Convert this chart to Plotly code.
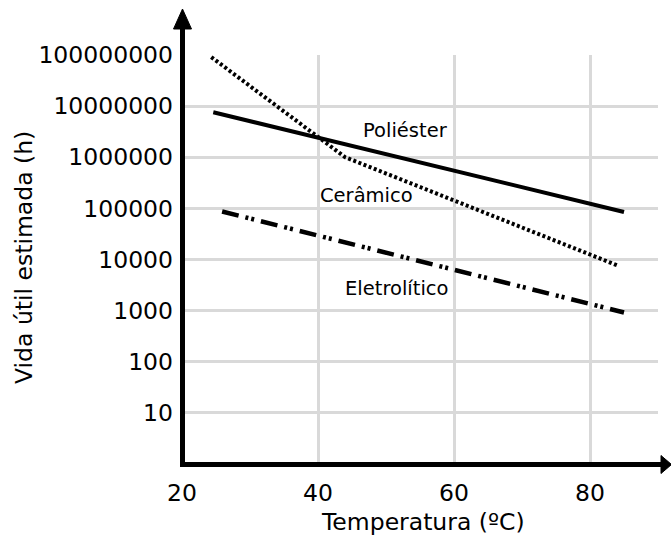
import plotly.graph_objects as go

# ---- data ----
poliester_x = [24.6, 85.0]
poliester_y = [7.6e6, 8.5e4]
ceramico_x = [24.3, 44.0, 84.1]
ceramico_y = [9.1e7, 1.0e6, 7.6e3]
eletrolitico_x = [25.9, 85.0]
eletrolitico_y = [8.7e4, 9.2e2]

x_ticks = [20, 40, 60, 80]
y_ticks = [10, 100, 1000, 10000, 100000, 1000000, 10000000, 100000000]
y_ticktext = [str(v) for v in y_ticks]

labels = ["Poliéster", "Cerâmico", "Eletrolítico"]
label_x = [52.8, 47.2, 51.5]
label_y = [3.4e6, 1.8e5, 2.7e3]

FONT = "DejaVu Sans"
W, H = 671, 536
L, R, T, B = 182, 13, 55, 72
PW, PH = W - L - R, H - T - B


def px(xp):
    return (xp - L) / PW


def py(yp):
    return (H - B - yp) / PH


fig = go.Figure()
fig.add_trace(go.Scatter(x=poliester_x, y=poliester_y, mode="lines",
                         line=dict(color="black", width=4), showlegend=False))
fig.add_trace(go.Scatter(x=ceramico_x, y=ceramico_y, mode="lines",
                         line=dict(color="black", width=4, dash="3px,2.5px"),
                         showlegend=False))
fig.add_trace(go.Scatter(x=eletrolitico_x, y=eletrolitico_y, mode="lines",
                         line=dict(color="black", width=4.5,
                                   dash="17px,7px,3px,3px,3px,7px"),
                         showlegend=False))

for t, xv, yv in zip(labels, label_x, label_y):
    import math
    fig.add_annotation(x=xv, y=math.log10(yv), xref="x", yref="y", text=t,
                       showarrow=False, font=dict(family=FONT, size=19.5, color="black"))

# axis titles
fig.add_annotation(x=px(423), y=py(522), xref="paper", yref="paper",
                   text="Temperatura (ºC)", showarrow=False,
                   xanchor="center", yanchor="middle",
                   font=dict(family=FONT, size=23.5, color="black"))
fig.add_annotation(x=px(24), y=py(258), xref="paper", yref="paper",
                   text="Vida útil estimada (h)", showarrow=False, textangle=-90,
                   xanchor="center", yanchor="middle",
                   font=dict(family=FONT, size=23.5, color="black"))

# axis lines with arrows
ax_x = 182.5
ax_y = 464.5
fig.add_shape(type="line", xref="paper", yref="paper",
              x0=px(ax_x), x1=px(ax_x), y0=py(ax_y + 2.5), y1=py(26),
              line=dict(color="black", width=5), layer="above")
fig.add_shape(type="line", xref="paper", yref="paper",
              x0=px(ax_x - 2.5), x1=px(664), y0=py(ax_y), y1=py(ax_y),
              line=dict(color="black", width=5), layer="above")
fig.add_shape(type="path", xref="paper", yref="paper",
              path=f"M {px(ax_x)},{py(9)} L {px(ax_x - 9)},{py(29)} L {px(ax_x + 9)},{py(29)} Z",
              fillcolor="black", line=dict(color="black", width=1), layer="above")
fig.add_shape(type="path", xref="paper", yref="paper",
              path=f"M {px(671.5)},{py(ax_y)} L {px(661)},{py(ax_y - 9)} L {px(661)},{py(ax_y + 9)} Z",
              fillcolor="black", line=dict(color="black", width=1), layer="above")

fig.update_layout(
    width=W, height=H,
    margin=dict(l=L, r=R, t=T, b=B),
    paper_bgcolor="white", plot_bgcolor="white",
    showlegend=False,
    xaxis=dict(range=[20, 90], tickvals=x_ticks, showgrid=True,
               gridcolor="#d9d9d9", gridwidth=3, zeroline=False, showline=False,
               ticks="", ticklabelstandoff=12,
               tickfont=dict(family=FONT, size=23.5, color="black")),
    yaxis=dict(type="log", range=[0, 8], tickvals=y_ticks, ticktext=y_ticktext,
               showgrid=True, gridcolor="#d9d9d9", gridwidth=3, zeroline=False,
               showline=False, ticks="", ticklabelstandoff=8,
               tickfont=dict(family=FONT, size=23.5, color="black")),
)

fig.write_html("out.html")
